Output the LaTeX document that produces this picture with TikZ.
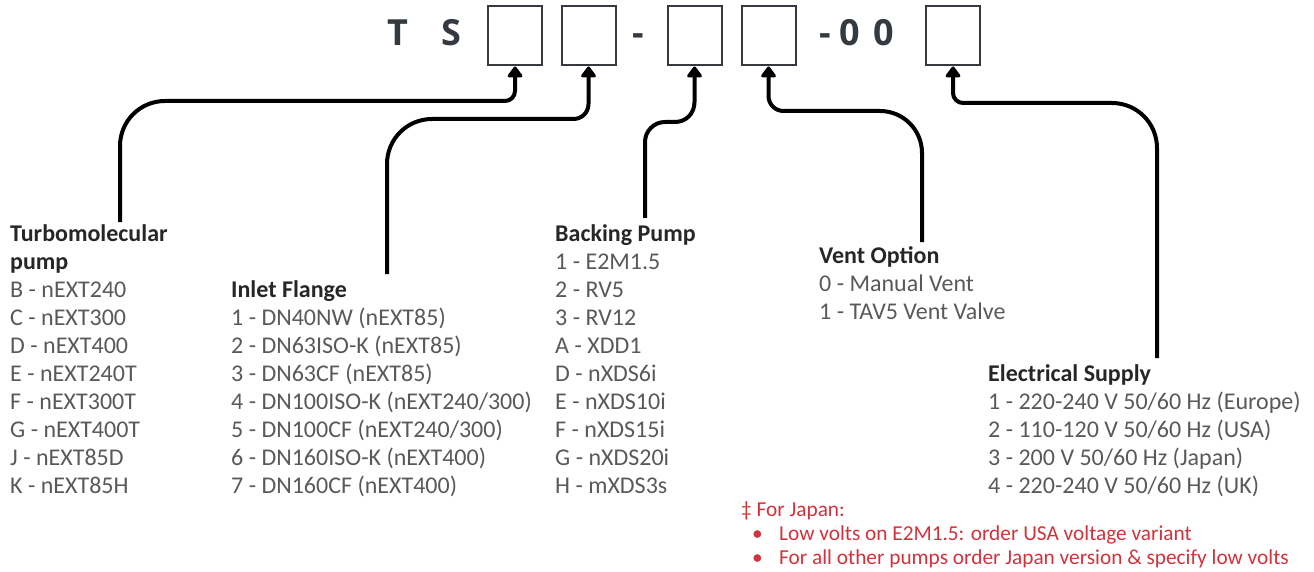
\documentclass[tikz,border=0pt]{standalone}
\usepackage{fontspec}
\setmainfont{Carlito}
\newfontfamily\hdrfont{Open Sans}
\usetikzlibrary{arrows.meta}
\definecolor{hdr}{RGB}{52,58,64}
\definecolor{bodytxt}{RGB}{89,89,89}
\definecolor{headtxt}{RGB}{38,38,38}
\definecolor{notetxt}{RGB}{210,50,60}
\begin{document}
\begin{tikzpicture}[x=1pt,y=-1pt,
  codebox/.style={draw=hdr, line width=2pt, minimum width=54pt, minimum height=59pt, inner sep=0pt},
  hdrchar/.style={font=\hdrfont\bfseries\fontsize{36}{40}\selectfont, text=hdr, anchor=base, inner sep=0pt},
  heading/.style={font=\bfseries\fontsize{24}{28}\selectfont, text=headtxt, anchor=base west, inner sep=0pt},
  item/.style={font=\fontsize{24}{28}\selectfont, text=bodytxt, anchor=base west, inner sep=0pt},
  noteline/.style={font=\fontsize{21.3}{24}\selectfont, text=notetxt, anchor=base west, inner sep=0pt},
  conn/.style={line width=4pt, -{Triangle[width=17pt,length=12pt,round]}},
]
\useasboundingbox (0,0) rectangle (1314,572);

% header
\node[hdrchar] (hT) at (397.5,46) {T};
\node[hdrchar] (hS) at (451,46) {S};
\node[codebox] (b1) at (515,36) {};
\node[codebox] (b2) at (588.5,36) {};
\node[hdrchar] (hd1) at (638,46) {-};
\node[codebox] (b3) at (694.5,36) {};
\node[codebox] (b4) at (768.5,36) {};
\node[hdrchar] (hd2) at (825.5,46) {-};
\node[hdrchar] (hz1) at (850,46) {0};
\node[hdrchar] (hz2) at (884,46) {0};
\node[codebox] (b5) at (953,36) {};

% Turbomolecular pump
\node[heading] (tpA) at (10,241) {Turbomolecular};
\node[heading] (tpB) at (10,269) {pump};
\foreach \t [count=\i] in {B - nEXT240, C - nEXT300, D - nEXT400, E - nEXT240T, F - nEXT300T, G - nEXT400T, J - nEXT85D, K - nEXT85H}
  \node[item] (tp\i) at (10,269+28*\i) {\t};

% Inlet flange
\node[heading] (ifH) at (231,297) {Inlet Flange};
\foreach \t [count=\i] in {1 - DN40NW (nEXT85), 2 - DN63ISO-K (nEXT85), 3 - DN63CF (nEXT85), 4 - DN100ISO-K (nEXT240/300), 5 - DN100CF (nEXT240/300), 6 - DN160ISO-K (nEXT400), 7 - DN160CF (nEXT400)}
  \node[item] (if\i) at (231,297+28*\i) {\t};

% Backing pump
\node[heading] (bpH) at (555,241) {Backing Pump};
\foreach \t [count=\i] in {1 - E2M1.5, 2 - RV5, 3 - RV12, A - XDD1, D - nXDS6i, E - nXDS10i, F - nXDS15i, G - nXDS20i, H - mXDS3s}
  \node[item] (bp\i) at (555,241+28*\i) {\t};

% Vent option
\node[heading] (voH) at (819,263) {Vent Option};
\foreach \t [count=\i] in {0 - Manual Vent, 1 - TAV5 Vent Valve}
  \node[item] (vo\i) at (819,263+28*\i) {\t};

% Electrical supply
\node[heading] (esH) at (988,381) {Electrical Supply};
\foreach \t [count=\i] in {1 - 220-240 V 50/60 Hz (Europe), 2 - 110-120 V 50/60 Hz (USA), 3 - 200 V 50/60 Hz (Japan), 4 - 220-240 V 50/60 Hz (UK)}
  \node[item] (es\i) at (988,381+28*\i) {\t};

% note
\node[noteline] (nH) at (741,516) {‡ For Japan:};
\node[noteline] (nb1) at (752,540) {•};
\node[noteline] (n1) at (779,540) {Low volts on E2M1.5: order USA voltage variant};
\node[noteline] (nb2) at (752,564) {•};
\node[noteline] (n2) at (779,564) {For all other pumps order Japan version \& specify low volts};

% connector start points
\coordinate (c1) at (120,222);
\coordinate (c2) at (387,274);
\coordinate (c3) at (645,218);
\coordinate (c4) at (922,242);
\coordinate (c5) at (1157,358);

\draw[conn] (c1) -- (120,146) .. controls (120,121.1) and (140.1,101) .. (165,101)
  -- (505,101) .. controls (510.5,101) and (515,96.5) .. (515,91) -- (b1.south);
\draw[conn] (c2) -- (387,164) .. controls (387,139.1) and (407.1,119) .. (432,119)
  -- (573.5,119) .. controls (581.8,119) and (588.5,112.3) .. (588.5,104) -- (b2.south);
\draw[conn] (c3) -- (645,142) .. controls (645,131) and (654,122) .. (665,122)
  -- (675,122) .. controls (686,122) and (694.5,113.5) .. (694.5,102) -- (b3.south);
\draw[conn] (c4) -- (922,153) .. controls (922,129.8) and (903.2,111) .. (880,111)
  -- (783.5,111) .. controls (775.2,111) and (768.5,104.3) .. (768.5,96) -- (b4.south);
\draw[conn] (c5) -- (1157,148) .. controls (1157,123.1) and (1136.9,103) .. (1112,103)
  -- (963,103) .. controls (957.5,103) and (953,98.5) .. (953,93) -- (b5.south);
\end{tikzpicture}
\end{document}
